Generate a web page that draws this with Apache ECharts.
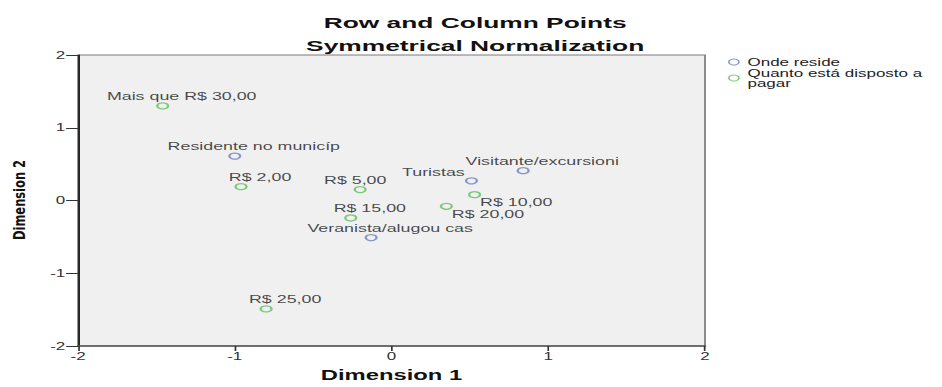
<!DOCTYPE html>
<html>
<head>
<meta charset="utf-8">
<script src="https://cdn.jsdelivr.net/npm/echarts@6/dist/echarts.min.js"></script>
<style>
  html, body { margin: 0; padding: 0; background: #fff; overflow: hidden; }
  /* The plot is laid out on a narrow canvas and widened horizontally. */
  #chart { width: 554px; height: 387px; transform: scaleX(1.7); transform-origin: 0 0; }
</style>
</head>
<body>
<div id="chart"></div>
<script>
// Row points (Onde reside)
const rowNames = ['Residente no municíp', 'Turistas', 'Visitante/excursioni', 'Veranista/alugou cas'];
const rowDim1 = [-1.00, 0.51, 0.84, -0.13];
const rowDim2 = [0.61, 0.27, 0.41, -0.51];

// Column points (Quanto está disposto a pagar)
const colNames = ['R$ 2,00', 'R$ 5,00', 'R$ 10,00', 'R$ 15,00', 'R$ 20,00', 'R$ 25,00', 'Mais que R$ 30,00'];
const colDim1 = [-0.96, -0.20, 0.53, -0.26, 0.35, -0.80, -1.46];
const colDim2 = [0.19, 0.15, 0.08, -0.24, -0.08, -1.49, 1.30];

// Axis ticks shared by both dimensions
const axisTicks = [-2, -1, 0, 1, 2];

const seriesNames = ['Onde reside', 'Quanto está disposto a\npagar'];
const titleMain = 'Row and Column Points';
const titleSub = 'Symmetrical Normalization';
const xName = 'Dimension 1';
const yName = 'Dimension 2';

const STRETCH = 1.7;
const FONT = "'Liberation Sans', Arial, sans-serif";
const BLUE = '#6c7fc2';
const GREEN = '#5fbf5f';

// label nudges (px, before horizontal stretch)
const defaultNudge = [11.2, -9.5];
const nudges = {
  'R$ 5,00': [-2.9, -9],
  'Turistas': [-22.4, -8],
  'R$ 10,00': [24.5, 8],
  'R$ 20,00': [24.5, 8]
};

function buildPoints(names, d1, d2) {
  return names.map((n, i) => ({
    name: n,
    value: [d1[i], d2[i]],
    label: { offset: nudges[n] || defaultNudge }
  }));
}

function pointSeries(name, color, data) {
  return {
    name: name,
    type: 'scatter',
    symbol: 'circle',
    symbolSize: [6.4, 6],
    itemStyle: { color: 'rgba(0,0,0,0)', borderColor: color, borderWidth: 1.3 },
    emphasis: { disabled: true },
    label: {
      show: true,
      position: 'inside',
      formatter: p => p.name,
      color: '#1a1a1a',
      fontFamily: FONT,
      fontSize: 10.5,
      align: 'center',
      verticalAlign: 'middle'
    },
    data: data
  };
}

const chart = echarts.init(document.getElementById('chart'), null, { renderer: 'svg' });

chart.setOption({
  animation: false,
  backgroundColor: '#ffffff',
  title: [
    {
      text: titleMain, left: 279.5, top: 15, textAlign: 'center', padding: 0,
      textStyle: { fontFamily: FONT, fontSize: 15.5, fontWeight: 'bold', color: '#111' }
    },
    {
      text: titleSub, left: 279.5, top: 38, textAlign: 'center', padding: 0,
      textStyle: { fontFamily: FONT, fontSize: 15.5, fontWeight: 'bold', color: '#111' }
    }
  ],
  legend: {
    orient: 'vertical',
    left: 428.2,
    top: 57,
    padding: 0,
    itemWidth: 6,
    itemHeight: 6,
    itemGap: 1,
    selectedMode: false,
    textStyle: { fontFamily: FONT, fontSize: 10, lineHeight: 10, color: '#222' },
    data: [
      { name: seriesNames[0], icon: 'circle', itemStyle: { color: 'rgba(0,0,0,0)', borderColor: BLUE, borderWidth: 1 } },
      { name: seriesNames[1], icon: 'circle', itemStyle: { color: 'rgba(0,0,0,0)', borderColor: GREEN, borderWidth: 1 } }
    ]
  },
  grid: {
    left: 45.9, right: 139.3, top: 55, bottom: 35,
    show: true, backgroundColor: '#f0f0f0', borderColor: '#7a7a7a', borderWidth: 1
  },
  xAxis: {
    type: 'value',
    min: axisTicks[0], max: axisTicks[axisTicks.length - 1], interval: 1,
    name: xName, nameLocation: 'middle', nameGap: 22,
    nameTextStyle: { fontFamily: FONT, fontSize: 14, fontWeight: 'bold', color: '#111' },
    axisLine: { show: true, onZero: false, lineStyle: { color: '#555', width: 1.5 } },
    axisTick: { show: true, length: 5, lineStyle: { color: '#333' } },
    axisLabel: { margin: 5, fontFamily: FONT, fontSize: 10, color: '#333' },
    splitLine: { show: false }
  },
  yAxis: {
    type: 'value',
    min: axisTicks[0], max: axisTicks[axisTicks.length - 1], interval: 1,
    axisLine: { show: true, onZero: false, lineStyle: { color: '#222', width: 1.1 } },
    axisTick: { show: true, length: 7, lineStyle: { color: '#333' } },
    axisLabel: { margin: 7.5, fontFamily: FONT, fontSize: 10, color: '#333' },
    splitLine: { show: false }
  },
  graphic: [
    {
      type: 'text',
      x: 11.2,
      y: 200,
      rotation: Math.PI / 2,
      scaleX: 0.85,
      scaleY: 1.1 / STRETCH,
      style: {
        text: yName,
        font: "bold 15px 'DejaVu Sans Condensed', 'Liberation Sans Narrow', sans-serif",
        fill: '#111',
        textAlign: 'center',
        textVerticalAlign: 'middle'
      }
    }
  ],
  series: [
    pointSeries(seriesNames[0], BLUE, buildPoints(rowNames, rowDim1, rowDim2)),
    pointSeries(seriesNames[1], GREEN, buildPoints(colNames, colDim1, colDim2))
  ]
});
</script>
</body>
</html>
